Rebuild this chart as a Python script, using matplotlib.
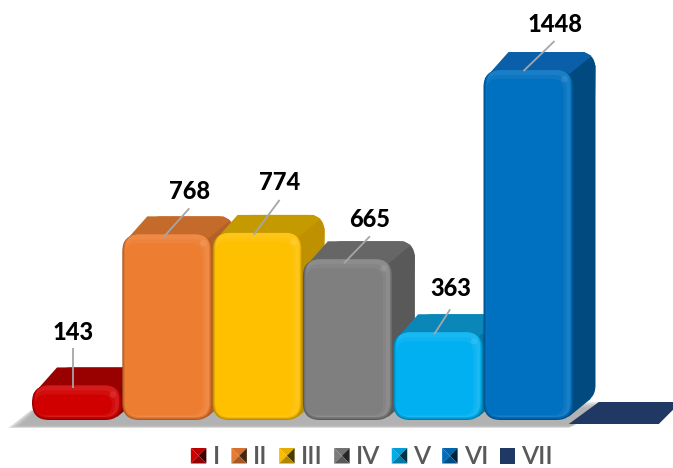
import numpy as np
import matplotlib
matplotlib.use("Agg")
import matplotlib.pyplot as plt
from matplotlib.colors import to_rgb
from matplotlib.legend_handler import HandlerBase
from matplotlib.patches import FancyBboxPatch, Patch, Polygon

categories = ["I", "II", "III", "IV", "V", "VI", "VII"]
values = [143, 768, 774, 665, 363, 1448, 0]
front_colors = ["#d00000", "#ed7d31", "#ffc000", "#7f7f7f", "#00b0f0", "#0070c0", "#1f3864"]
top_colors = ["#990000", "#c46a2a", "#c49a00", "#666666", "#0a86b8", "#0a5fa8", "#1f3864"]
side_colors = ["#8a0000", "#b4602a", "#bf9000", "#595959", "#00759f", "#004a80", "#1f3864"]

# label offsets from the bar centre / front top, in pixels
label_dx = [-4, 22, 22, 22, 13, 27]
label_dy = [53, 43, 50, 40, 44, 46]
line_x0 = [-4, -4, -4, -4, -4, -5]
line_y0 = [-3, -3, -2, -4, -2, -1]
line_x1 = [-4, 22, 22, 22, 12, 26]
line_y1 = [37, 26, 33, 23, 23, 29]

W, H = 673, 468
step = 90.3       # pixels per category
scale = 0.2417    # pixels per unit
x0_px, y0_px = 77, 420
depth_x, depth_y = 22, 18
half = 45
radius = 17


def blend(c, other, t):
    c, other = np.array(to_rgb(c)), np.array(to_rgb(other))
    return tuple(c * (1 - t) + other * t)


def px(i, dx):
    return i + dx / step


def py(v, dy):
    return v + dy / scale


def box(ax, i, v, l, r, b, t, rad, color, z, shift=(0, 0)):
    # rounded block with insets l, r, b, t in pixels
    p = FancyBboxPatch((px(i, -half + l + shift[0]), py(0, b + shift[1])),
                       (2 * half - l - r) / step, max(v - (b + t) / scale, 1),
                       boxstyle="round,pad=0,rounding_size={:f}".format(max(rad, 1) / step),
                       mutation_aspect=step / scale, fc=color, ec="none", zorder=z)
    ax.add_patch(p)


class BevelHandler(HandlerBase):
    def create_artists(self, legend, orig, xd, yd, width, height, fontsize, trans):
        s = width
        x, y = -xd, -yd + (height - s) / 2
        c = orig.get_facecolor()[:3]
        mid = (x + s / 2, y + s / 2)
        tl, tr, br, bl = (x, y + s), (x + s, y + s), (x + s, y), (x, y)
        if orig.get_label() == "VII":
            return [Polygon([tl, tr, br, bl], fc=c, ec="none", transform=trans)]
        faces = [([tl, tr, mid], blend(c, "black", 0.1)),
                 ([tl, bl, mid], blend(c, "black", 0.02)),
                 ([tr, br, mid], blend(c, "black", 0.7)),
                 ([bl, br, mid], blend(c, "black", 0.3))]
        return [Polygon(f, fc=col, ec="none", transform=trans) for f, col in faces]


plt.rcParams["font.family"] = ["Lato", "DejaVu Sans"]
fig = plt.figure(figsize=(W / 100, H / 100), dpi=100)
ax = fig.add_axes([0, 0, 1, 1])
ax.set_xlim(-x0_px / step, (W - x0_px) / step)
ax.set_ylim(-(H - y0_px) / scale, y0_px / scale)
ax.axis("off")

# floor shadow
for k in range(6):
    a = k * 1.2
    floor = [(px(0, -69 + a * 2), py(0, -8 + a * 0.4)), (px(0, -46 + a), py(0, 10)),
             (px(5, 71), py(0, 18 - a)), (px(5, 40 + a), py(0, -8 + a * 0.4))]
    ax.add_patch(Polygon(floor, fc="#a6a6a6", ec="none", alpha=0.27, zorder=1))

# flat series with no height
i = 6
ax.add_patch(Polygon([(px(i, -50), py(0, -4)), (px(i, -20), py(0, 18)),
                      (px(i, 62), py(0, 18)), (px(i, 40), py(0, -4))],
                     fc=front_colors[i], ec="none", zorder=2))

for i, v in enumerate(values[:6]):
    z = 3 + i * 0.1
    # back block, side and top faces
    box(ax, i, v, 0, 0, 0, 0, radius, side_colors[i], z, shift=(depth_x, depth_y))
    ax.add_patch(Polygon([(px(i, half - 5), py(0, 3)), (px(i, half + depth_x - 5), py(0, depth_y + 3)),
                          (px(i, half + depth_x), py(v, depth_y - 13)), (px(i, half - 5), py(v, -5))],
                         fc=side_colors[i], ec="none", zorder=z))
    ax.add_patch(Polygon([(px(i, -half + 1), py(v, -9)), (px(i, -half + depth_x + 3), py(v, depth_y)),
                          (px(i, half + depth_x - 11), py(v, depth_y)),
                          (px(i, half + depth_x - 4), py(v, depth_y - 4)),
                          (px(i, half - 4), py(v, -4))],
                         fc=top_colors[i], ec="none", zorder=z))
    # front face, soft rim to flat centre, top edge stays light
    c = front_colors[i]
    for inset, t in [(0, 0.28), (1, 0.14), (2, 0.05)]:
        box(ax, i, v, inset, inset, inset, 0, radius - inset, blend(c, "black", t), z + 0.01 + 0.001 * inset)
    box(ax, i, v, 3, 3, 3, 0, radius - 3, blend(c, "white", 0.1), z + 0.02)
    box(ax, i, v, 3, 7, 4, 5, radius - 5, blend(c, "white", 0.05), z + 0.021)
    box(ax, i, v, 3, 10, 5, 9, radius - 6, c, z + 0.022)
    # highlight in the top right corner
    ax.scatter([px(i, half - 9)], [py(v, -9)], s=22, color=blend(c, "white", 0.25),
               edgecolors="none", alpha=0.5, zorder=z + 0.03)

# value labels and leader lines
for i, v in enumerate(values[:6]):
    ax.plot([px(i, line_x0[i]), px(i, line_x1[i])], [py(v, line_y0[i]), py(v, line_y1[i])],
            color="#a6a6a6", lw=1.3, zorder=6, solid_capstyle="butt")
    ax.text(px(i, label_dx[i]), py(v, label_dy[i]), str(v), ha="center", va="center",
            fontsize=17, fontweight=900, color="black", zorder=7)

handles = [Patch(facecolor=c, label=n) for c, n in zip(front_colors, categories)]
leg = ax.legend(handles=handles, ncol=7, loc="center", bbox_to_anchor=(372 / W, 1 - 457 / H),
                frameon=False, prop={"size": 18, "weight": "semibold"}, labelcolor="#595959",
                handler_map={Patch: BevelHandler()}, handlelength=0.62, handleheight=0.7,
                handletextpad=0.25, columnspacing=0.46, borderpad=0, borderaxespad=0)

fig.savefig("out.png", dpi=100)
